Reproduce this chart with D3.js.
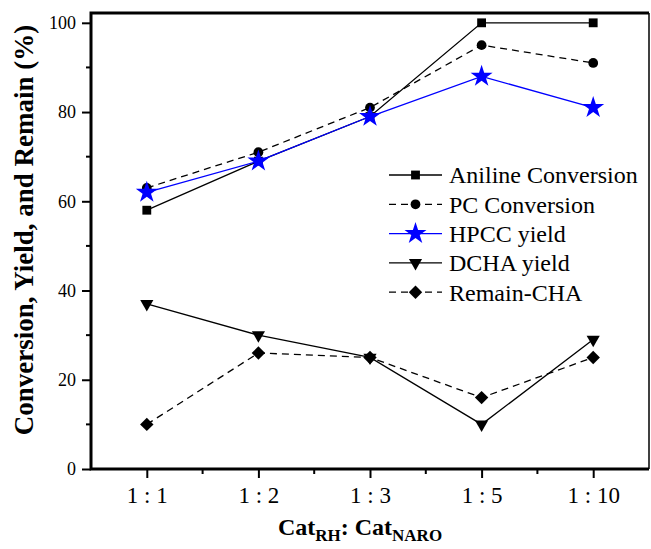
<!DOCTYPE html>
<html>
<head>
<meta charset="utf-8">
<script src="https://cdn.jsdelivr.net/npm/d3@7"></script>
<style>
  body { margin: 0; background: #fff; }
  text { font-family: "Liberation Serif", "Times New Roman", serif; fill: #000; }
</style>
</head>
<body>
<script>
// categories and series
let ratios = ["1 : 1", "1 : 2", "1 : 3", "1 : 5", "1 : 10"];
let anilineConv = [58, 69, 79, 100, 100];
let pcConv = [63, 71, 81, 95, 91];
let hpccYield = [62, 69, 79, 88, 81];
let dchaYield = [37, 30, 25, 10, 29];
let remainCha = [10, 26, 25, 16, 25];
let yTicks = [0, 20, 40, 60, 80, 100];
let yMinorTicks = [10, 30, 50, 70, 90];

let series = [
  {name: "Aniline Conversion", values: anilineConv, color: "#000", dash: null, symbol: d3.symbolSquare, size: 78, rot: 0},
  {name: "PC Conversion", values: pcConv, color: "#000", dash: "7,5", symbol: d3.symbolCircle, size: 75, rot: 0},
  {name: "HPCC yield", values: hpccYield, color: "#0000ff", dash: null, symbol: d3.symbolStar, size: 150, rot: 0},
  {name: "DCHA yield", values: dchaYield, color: "#000", dash: null, symbol: d3.symbolTriangle, size: 75, rot: 180},
  {name: "Remain-CHA", values: remainCha, color: "#000", dash: "7,5", symbol: d3.symbolSquare, size: 90, rot: 45}
];

let margin = {top: 13, right: 2, bottom: 80, left: 91},
width = 651 - margin.left - margin.right,
height = 549 - margin.top - margin.bottom;

let x = d3.scalePoint().domain(ratios).range([0, width]).padding(0.5);
let y = d3.scaleLinear().domain([0, 102.2]).range([height, 0]);

let svg = d3.select("body").append("svg")
  .attr("width", 651)
  .attr("height", 549)
.append("g")
  .attr("transform", "translate(" + margin.left + "," + margin.top + ")");

// minor ticks
let step = x.step();
let xMinor = ratios.slice(0, -1).map(d => x(d) + step / 2);
svg.append("g").selectAll("line").data(xMinor).enter().append("line")
  .attr("x1", d => d).attr("x2", d => d)
  .attr("y1", height).attr("y2", height + 5)
  .attr("stroke", "#000").attr("stroke-width", 2);
svg.append("g").selectAll("line").data(yMinorTicks).enter().append("line")
  .attr("x1", 0).attr("x2", -5)
  .attr("y1", d => y(d)).attr("y2", d => y(d))
  .attr("stroke", "#000").attr("stroke-width", 2);

// x axis
let xAxis = svg.append("g")
  .attr("transform", "translate(0," + height + ")")
  .call(d3.axisBottom(x).tickSize(9).tickSizeOuter(0).tickPadding(9));
xAxis.select(".domain").remove();
xAxis.selectAll("line").attr("stroke-width", 2);
xAxis.selectAll("text").style("font-size", "23px").style("font-family", "Liberation Serif");

// y axis
let yAxis = svg.append("g")
  .call(d3.axisLeft(y).tickValues(yTicks).tickSize(9).tickPadding(6));
yAxis.select(".domain").remove();
yAxis.selectAll("line").attr("stroke-width", 2);
yAxis.selectAll("text").style("font-size", "18px").style("font-family", "Liberation Serif");

// frame
let frame = svg.append("g").attr("stroke", "#000").attr("fill", "none");
frame.append("path").attr("stroke-width", 3)
  .attr("d", "M" + width + ",0H0V" + height + "H" + width);
frame.append("path").attr("stroke-width", 1.5)
  .attr("d", "M" + width + ",0V" + height);

// lines and markers
let line = d3.line()
  .x((d, i) => x(ratios[i]))
  .y(d => y(d));

series.forEach(s => {
  svg.append("path")
    .datum(s.values)
    .attr("fill", "none")
    .attr("stroke", s.color)
    .attr("stroke-width", 1.3)
    .attr("stroke-dasharray", s.dash)
    .attr("d", line);
  svg.append("g").selectAll("path").data(s.values).enter().append("path")
    .attr("d", d3.symbol().type(s.symbol).size(s.size))
    .attr("transform", (d, i) => "translate(" + x(ratios[i]) + "," + y(d) + ") rotate(" + s.rot + ")")
    .attr("fill", s.color);
});

// legend
let legend = svg.append("g").attr("transform", "translate(298,162)");
series.forEach((s, i) => {
  let g = legend.append("g").attr("transform", "translate(0," + (i * 29.3) + ")");
  g.append("line")
    .attr("x1", 0).attr("x2", 53)
    .attr("stroke", s.color).attr("stroke-width", 1.3)
    .attr("stroke-dasharray", s.dash);
  g.append("path")
    .attr("d", d3.symbol().type(s.symbol).size(s.size))
    .attr("transform", "translate(26.5,0) rotate(" + s.rot + ")")
    .attr("fill", s.color);
  g.append("text")
    .attr("x", 60).attr("dy", "0.35em")
    .style("font-size", "24px")
    .text(s.name);
});

// axis titles
svg.append("text")
  .attr("transform", "translate(" + (24 - margin.left) + "," + (230 - margin.top) + ") rotate(-90)")
  .attr("text-anchor", "middle")
  .attr("dy", "0.35em")
  .style("font-size", "27px")
  .style("font-weight", "bold")
  .text("Conversion, Yield, and Remain (%)");

let xt = svg.append("text")
  .attr("x", 360 - margin.left)
  .attr("y", 535 - margin.top)
  .attr("text-anchor", "middle")
  .style("font-size", "24px")
  .style("font-weight", "bold");
xt.append("tspan").text("Cat");
xt.append("tspan").attr("dy", 6).style("font-size", "17px").text("RH");
xt.append("tspan").attr("dy", -6).text(": Cat");
xt.append("tspan").attr("dy", 6).style("font-size", "17px").text("NARO");
</script>
</body>
</html>
